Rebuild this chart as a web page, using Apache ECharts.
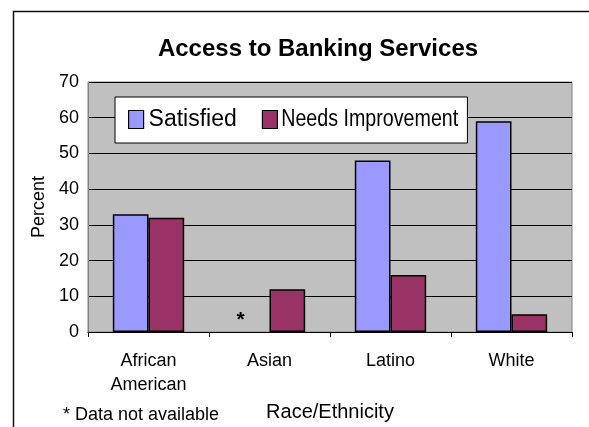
<!DOCTYPE html>
<html>
<head>
<meta charset="utf-8">
<script src="https://cdn.jsdelivr.net/npm/echarts@6/dist/echarts.min.js"></script>
<style>
html,body{margin:0;padding:0;background:#fff;}
#chart{width:589px;height:427px;}
</style>
</head>
<body>
<div id="chart"></div>
<script>
// Survey results by group (percent of respondents)
const categories = ['African\nAmerican', 'Asian', 'Latino', 'White'];
const satisfied = [33, null, 48, 59];
const needsImprovement = [32, 12, 16, 5];
const yTicks = { min: 0, max: 70, step: 10 };
const missingMark = '*';

const chart = echarts.init(document.getElementById('chart'), null, { renderer: 'canvas' });
const font = 'Arial, "Liberation Sans", sans-serif';

// Legend geometry: the long series name is set in a condensed face
const legendBox = { left: 115, top: 97, padL: 13, padT: 11, itemH: 22, iconW: 15, textGap: 5, itemGap: 25 };
const condensedWidth = 177;
const legendFont = { fontFamily: font, fontSize: 23, lineHeight: legendBox.itemH };

const option = {
  animation: false,
  backgroundColor: '#ffffff',
  title: {
    text: 'Access to Banking Services',
    left: 313, top: 32, textAlign: 'center',
    textStyle: { fontFamily: font, fontSize: 24, fontWeight: 'bold', color: '#000' }
  },
  legend: {
    left: legendBox.left, top: legendBox.top,
    padding: [legendBox.padT, 8, 12, legendBox.padL],
    backgroundColor: '#ffffff',
    borderColor: '#000', borderWidth: 1,
    itemWidth: legendBox.iconW, itemHeight: 18, itemGap: legendBox.itemGap,
    icon: 'rect',
    textStyle: Object.assign({ color: '#000' }, legendFont),
    itemStyle: { borderColor: '#000', borderWidth: 1.2 },
    data: [
      { name: 'Satisfied' },
      { name: 'Needs Improvement',
        textStyle: Object.assign({ color: 'rgba(0,0,0,0)', width: condensedWidth, overflow: 'truncate', ellipsis: '' }, legendFont) }
    ]
  },
  grid: {
    left: 88, right: 17, top: 82, bottom: 94,
    show: true, backgroundColor: '#c0c0c0', borderColor: '#808080', borderWidth: 1
  },
  xAxis: {
    type: 'category', data: categories,
    name: 'Race/Ethnicity', nameLocation: 'middle', nameGap: 65,
    nameTextStyle: { fontFamily: font, fontSize: 20, color: '#000' },
    axisLine: { lineStyle: { color: '#000', width: 1 } },
    axisTick: { show: true, length: 5, lineStyle: { color: '#000' } },
    axisLabel: { fontFamily: font, fontSize: 18, color: '#000', margin: 17, lineHeight: 24 }
  },
  yAxis: {
    type: 'value', min: yTicks.min, max: yTicks.max, interval: yTicks.step,
    name: 'Percent', nameLocation: 'middle', nameGap: 40, nameRotate: 90,
    nameTextStyle: { fontFamily: font, fontSize: 18, color: '#000' },
    axisLine: { show: true, lineStyle: { color: '#808080' } },
    axisTick: { show: false },
    axisLabel: { fontFamily: font, fontSize: 18, color: '#000', margin: 9 },
    splitLine: { lineStyle: { color: '#000', width: 1 } }
  },
  series: [
    {
      name: 'Satisfied', type: 'bar', data: satisfied,
      barGap: '0%', barCategoryGap: '41%',
      itemStyle: { color: '#9999ff', borderColor: '#000', borderWidth: 1.5 }
    },
    {
      name: 'Needs Improvement', type: 'bar', data: needsImprovement,
      itemStyle: { color: '#993366', borderColor: '#000', borderWidth: 1.5 }
    }
  ]
};
chart.setOption(option);

// Condensed legend label, drawn over the reserved slot of the second legend item
const ctx = document.createElement('canvas').getContext('2d');
ctx.font = '23px ' + font;
const firstTextW = ctx.measureText('Satisfied').width;
const naturalW = ctx.measureText('Needs Improvement').width;
const secondTextX = legendBox.left + legendBox.padL + legendBox.iconW + legendBox.textGap +
  firstTextW + legendBox.itemGap + legendBox.iconW + legendBox.textGap;
const legendMidY = legendBox.top + legendBox.padT + legendBox.itemH / 2 + 1;

// Mark the category with no "Satisfied" figure, and draw the chart frame and footnote
const extras = [];
satisfied.forEach(function (v, i) {
  if (v === null) {
    const p = chart.convertToPixel({ gridIndex: 0 }, [i, 0]);
    extras.push({
      type: 'text', x: p[0] - 29, y: p[1] - 12, z: 10,
      style: { text: missingMark, fontFamily: font, fontSize: 21, fontWeight: 'bold',
               fill: '#000', align: 'center', verticalAlign: 'middle' }
    });
  }
});
chart.setOption({
  graphic: extras.concat([
    {
      type: 'text', x: secondTextX, y: legendMidY, z: 100, scaleX: condensedWidth / naturalW,
      style: { text: 'Needs Improvement', fontFamily: font, fontSize: 23, fill: '#000',
               align: 'left', verticalAlign: 'middle' }
    },
    {
      type: 'rect', z: -1, silent: true,
      shape: { x: 13.5, y: 11.5, width: 600, height: 440 },
      style: { fill: 'none', stroke: '#111', lineWidth: 1.5 }
    },
    {
      type: 'text', x: 63, y: 406,
      style: { text: '* Data not available', fontFamily: font, fontSize: 18, fill: '#000' }
    }
  ])
});
</script>
</body>
</html>
